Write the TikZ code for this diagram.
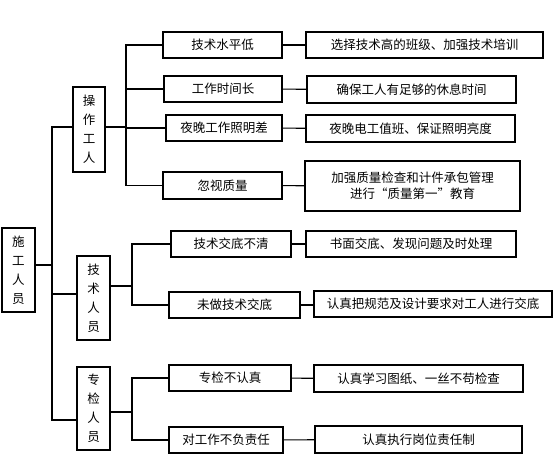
\documentclass[tikz,border=0pt]{standalone}
\usepackage{fontspec}
\setmainfont{Noto Sans CJK SC}
\tikzset{
  box/.style={draw=black, line width=1.1pt, inner sep=0pt, align=center, font=\fontsize{12.5}{16}\selectfont},
  vbox/.style={draw=black, line width=1.1pt, inner sep=0pt, align=center, font=\fontsize{12.5}{19}\selectfont},
  conn/.style={draw=black, line width=1.1pt}
}
\begin{document}
\begin{tikzpicture}[x=1pt,y=-1pt]
\useasboundingbox (0,0) rectangle (554,459);
% root and groups
\node[vbox, minimum width=33pt, minimum height=84pt] (root) at (18.5,270) {施\\工\\人\\员};
\node[vbox, minimum width=32pt, minimum height=85pt] (g1) at (89,129.5) {操\\作\\工\\人};
\node[vbox, minimum width=33pt, minimum height=84pt] (g2) at (93.5,298) {技\\术\\人\\员};
\node[vbox, minimum width=33pt, minimum height=83pt] (g3) at (93.5,408.5) {专\\检\\人\\员};
% group 1 problems
\node[box, minimum width=119pt, minimum height=26pt] (a1) at (222.5,45) {技术水平低};
\node[box, minimum width=118pt, minimum height=26pt] (a2) at (223,89) {工作时间长};
\node[box, minimum width=116pt, minimum height=26pt] (a3) at (224,128) {夜晚工作照明差};
\node[box, minimum width=119pt, minimum height=27pt] (a4) at (222.5,185.5) {忽视质量};
% group 1 measures
\node[box, minimum width=237pt, minimum height=26pt] (r1) at (424.5,45) {选择技术高的班级、加强技术培训};
\node[box, minimum width=209pt, minimum height=27pt] (r2) at (411.5,89.5) {确保工人有足够的休息时间};
\node[box, minimum width=209pt, minimum height=27pt] (r3) at (410.5,128.5) {夜晚电工值班、保证照明亮度};
\node[box, minimum width=215pt, minimum height=50pt] (r4) at (412.5,186) {加强质量检查和计件承包管理\\进行“质量第一”教育};
% group 2
\node[box, minimum width=120pt, minimum height=26pt] (b1) at (231,244) {技术交底不清};
\node[box, minimum width=131pt, minimum height=26pt] (b2) at (234.5,305) {未做技术交底};
\node[box, minimum width=210pt, minimum height=26pt] (br1) at (411,244) {书面交底、发现问题及时处理};
\node[box, minimum width=238pt, minimum height=26pt] (br2) at (433,304) {认真把规范及设计要求对工人进行交底};
% group 3
\node[box, minimum width=122pt, minimum height=26pt] (s1) at (230,378) {专检不认真};
\node[box, minimum width=114pt, minimum height=26pt] (s2) at (226,440) {对工作不负责任};
\node[box, minimum width=209pt, minimum height=27pt] (sr1) at (418.5,378.5) {认真学习图纸、一丝不苟检查};
\node[box, minimum width=207pt, minimum height=27pt] (sr2) at (418.5,439.5) {认真执行岗位责任制};
% main bus
\coordinate (m0) at (52,265);
\coordinate (m1) at (52,127);
\coordinate (m2) at (52,294);
\coordinate (m3) at (52,420);
\draw[conn] (root.east |- m0) -- (m0);
\draw[conn] (g1.west |- m1) -- (m1) -- (m3) -- (g3.west |- m3);
\draw[conn] (m2) -- (g2.west |- m2);
% group 1 bus
\coordinate (p1) at (126,127);
\draw[conn] (g1.east |- p1) -- (p1);
\draw[conn] (a1.west) -| (p1) |- (a4.west);
\draw[conn] (a2.west) -- (a2.west -| p1);
\draw[conn] (a3.west) -- (a3.west -| p1);
\draw[conn] (a1) -- (r1);
\draw[conn] (a2) -- (r2);
\draw[conn] (a3) -- (r3);
\draw[conn] (a4) -- (r4);
% group 2 bus
\coordinate (q1) at (132,286);
\draw[conn] (g2.east |- q1) -- (q1);
\draw[conn] (b1.west) -| (q1) |- (b2.west);
\draw[conn] (b1) -- (br1);
\draw[conn] (b2.east) -- (br2.west |- b2.east);
% group 3 bus
\coordinate (t1) at (132,412);
\draw[conn] (g3.east |- t1) -- (t1);
\draw[conn] (s1.west) -| (t1) |- (s2.west);
\draw[conn] (s1) -- (sr1);
\draw[conn] (s2) -- (sr2);
\end{tikzpicture}
\end{document}
